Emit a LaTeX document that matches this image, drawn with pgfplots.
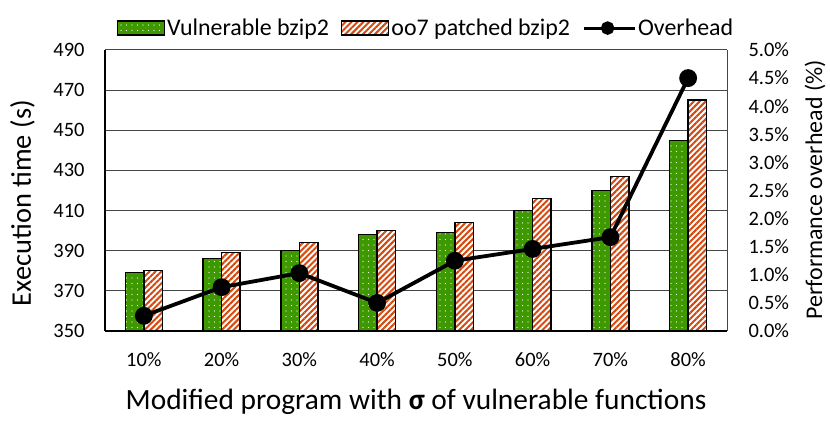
\documentclass[border=0pt]{standalone}
\usepackage{pgfplots}
\pgfplotsset{compat=1.18}
\usepackage{fontspec}
\setmainfont{Carlito}
\usetikzlibrary{patterns.meta}
\definecolor{vgreen}{RGB}{62,152,0}
\definecolor{pred}{RGB}{214,72,14}
\definecolor{gridc}{RGB}{70,70,70}
\tikzset{
  vulbar/.style={draw=black, line width=1.4bp, fill=vgreen,
    postaction={pattern={Dots[distance=5.5bp, radius=0.6bp]}, pattern color=white}},
  patbar/.style={draw=black, line width=1.4bp, fill=white,
    postaction={pattern={Lines[angle=45, distance=4.2bp, line width=2bp]}, pattern color=pred}},
}
\pgfplotsset{
  boxlegend/.style={legend image code/.code={\draw[##1] (0bp,-7bp) rectangle (47bp,7bp);}},
  linelegend/.style={legend image code/.code={\draw[black, line width=3bp] (0bp,0bp) -- (51bp,0bp); \fill[black] (24bp,0bp) circle (4.8bp);}},
}
\begin{document}
\begin{tikzpicture}[x=1bp,y=1bp]
\path[use as bounding box] (0,0) rectangle (830,421);
\begin{axis}[
  at={(105bp,90bp)}, anchor=south west,
  scale only axis, width=622bp, height=281bp,
  xmin=-0.5, xmax=7.5, ymin=350, ymax=490,
  xtick={0,...,7},
  xticklabels={10\%,20\%,30\%,40\%,50\%,60\%,70\%,80\%},
  ytick={350,370,...,490},
  major tick length=0pt,
  axis x line*=bottom, axis y line*=left,
  axis line style={line width=2.4bp, black, -},
  ymajorgrids, grid style={gridc, line width=1bp},
  ybar, bar width=18.5bp,
  /pgf/number format/assume math mode=true,
  ticklabel style={font=\fontsize{20.5}{24}\selectfont},
  yticklabel style={xshift=-17bp},
  xticklabel style={yshift=-18bp},
  xlabel={Modified program with \textbf{σ} of vulnerable functions},
  xlabel style={font=\fontsize{29.5}{34}\selectfont, at={(axis description cs:0.5,-0.253)}, anchor=center},
  ylabel={Execution time (s)},
  ylabel style={font=\fontsize{28.5}{33}\selectfont, at={(axis description cs:-0.1326,0.455)}, anchor=center},
  clip=false,
]
\addplot[vulbar, bar shift=-9.25bp] coordinates {(0,379) (1,386) (2,390) (3,398) (4,399) (5,410) (6,420) (7,445)};
\addplot[patbar, bar shift=9.25bp] coordinates {(0,380) (1,389) (2,394) (3,400) (4,404) (5,416) (6,427) (7,465)};
\end{axis}
\begin{axis}[
  at={(105bp,90bp)}, anchor=south west,
  scale only axis, width=622bp, height=281bp,
  xmin=-0.5, xmax=7.5, ymin=0, ymax=5,
  axis x line=none, axis y line*=right,
  axis line style={gridc, line width=1bp, -},
  ytick={0,0.5,...,5},
  major tick length=0pt,
  /pgf/number format/assume math mode=true,
  yticklabel={\pgfmathprintnumber[fixed,fixed zerofill,precision=1]{\tick}\%},
  ticklabel style={font=\fontsize{20.5}{24}\selectfont},
  yticklabel style={xshift=18bp},
  ylabel={Performance overhead (\%)},
  ylabel style={font=\fontsize{24}{28}\selectfont, at={(axis description cs:1.1415,0.502)}, anchor=center},
  legend style={draw=none, fill=none, at={(axis description cs:0.516,1.078)}, anchor=center,
    font=\fontsize{24}{28}\selectfont, legend columns=3,
    /tikz/every even column/.append style={column sep=10bp}},
  clip=false,
]
\addlegendimage{vulbar, boxlegend}
\addlegendentry{Vulnerable bzip2}
\addlegendimage{patbar, boxlegend}
\addlegendentry{oo7 patched bzip2}
\addplot[black, line width=3.8bp, mark=*, mark size=7bp, linelegend]
  coordinates {(0,0.27) (1,0.78) (2,1.03) (3,0.50) (4,1.25) (5,1.46) (6,1.67) (7,4.50)};
\addlegendentry{Overhead}
\end{axis}
\end{tikzpicture}
\end{document}
